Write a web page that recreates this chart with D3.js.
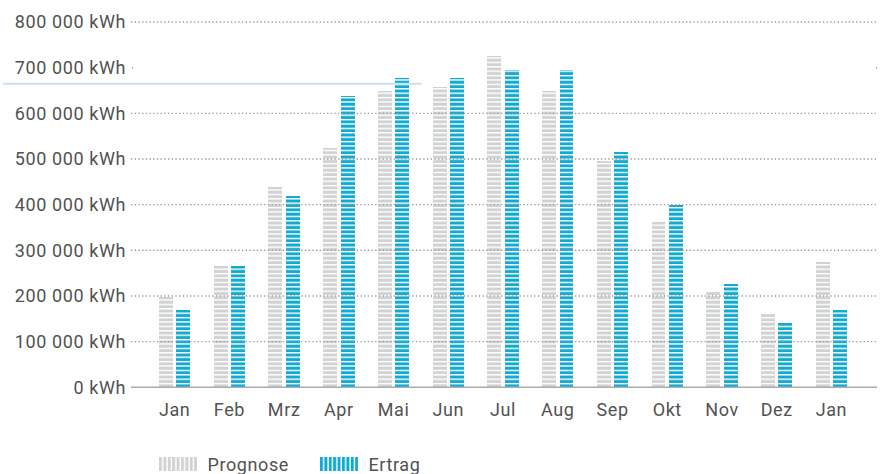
<!DOCTYPE html>
<html><head><meta charset="utf-8">
<script src="https://cdn.jsdelivr.net/npm/d3@7"></script>
<style>
html,body{margin:0;padding:0;background:#fff;}
svg{display:block;}
text{font-family:Roboto,"Noto Sans",sans-serif;}
</style></head><body>
<svg id="chart" width="884" height="474"></svg>
<script>
// ---- data ----
const categories = ["Jan","Feb","Mrz","Apr","Mai","Jun","Jul","Aug","Sep","Okt","Nov","Dez","Jan"];
const prognose = [198000,266000,438000,524000,649000,657000,725000,649000,496000,362000,209000,160000,274000];
const ertrag   = [169000,266000,419000,638000,677000,677000,695000,695000,515000,399000,226000,141000,169000];
const seriesNames = ["Prognose","Ertrag"];
const yTicks = [0,100000,200000,300000,400000,500000,600000,700000,800000];
const referenceValue = 665000;

// ---- layout / style ----
const baseY = 387.3, topY = 22;
const gridX0 = 131, gridX1 = 877;
const colors = {Prognose:"#d1d2d3", Ertrag:"#14a9d0"};
const textColor = "#525252";

const svg = d3.select("#chart");
const defs = svg.append("defs");

// horizontal stripe patterns for bars, aligned to baseline
const period = 4.4, stripe = 3;
seriesNames.forEach(name => {
  const p = defs.append("pattern")
    .attr("id","h-"+name)
    .attr("patternUnits","userSpaceOnUse")
    .attr("width",10).attr("height",period)
    .attr("patternTransform",`translate(0,${baseY})`);
  p.append("rect").attr("x",0).attr("y",period-stripe).attr("width",10).attr("height",stripe)
    .attr("fill",colors[name]);
  const v = defs.append("pattern")
    .attr("id","v-"+name)
    .attr("patternUnits","userSpaceOnUse")
    .attr("width",period).attr("height",20);
  v.append("rect").attr("x",0).attr("y",0).attr("width",stripe).attr("height",20)
    .attr("fill",colors[name]);
});

const y = d3.scaleLinear().domain([0,800000]).range([baseY, topY]);
const x0 = d3.scaleBand().domain(d3.range(categories.length))
  .range([147.3, 858.8]).paddingInner(0.426).paddingOuter(0.213);
const x1 = d3.scaleBand().domain(seriesNames).range([0, x0.bandwidth()]).paddingInner(0.2);

const fmt = d3.formatLocale({decimal:",", thousands:" ", grouping:[3], currency:["",""]}).format(",d");

// bars
const rows = categories.map((c,i) => ({i, values:[{k:"Prognose",v:prognose[i]},{k:"Ertrag",v:ertrag[i]}]}));
const g = svg.append("g").selectAll("g").data(rows).join("g")
  .attr("transform", d => `translate(${x0(d.i)},0)`);
g.selectAll("rect").data(d => d.values).join("rect")
  .attr("x", d => x1(d.k))
  .attr("width", x1.bandwidth())
  .attr("y", d => y(d.v))
  .attr("height", d => baseY - y(d.v))
  .attr("fill", d => `url(#h-${d.k})`)
  .attr("shape-rendering","crispEdges");

// gridlines (dotted, on top of bars)
const grid = svg.append("g");
yTicks.filter(t => t > 0 && t !== 700000).forEach(t => {
  grid.append("line")
    .attr("x1",gridX0).attr("x2",gridX1)
    .attr("y1",y(t)).attr("y2",y(t))
    .attr("stroke","#9a9a9a").attr("stroke-width",1.4)
    .attr("stroke-dasharray","1.3 2.4");
});
// the 700k line only shows its end dots
[gridX0+1, gridX1-1].forEach(xx => {
  grid.append("line").attr("x1",xx).attr("x2",xx+1.3)
    .attr("y1",y(700000)).attr("y2",y(700000))
    .attr("stroke","#9a9a9a").attr("stroke-width",1.4);
});

// baseline
svg.append("line").attr("x1",gridX0).attr("x2",gridX1)
  .attr("y1",baseY).attr("y2",baseY)
  .attr("stroke","#ababab").attr("stroke-width",1.6);

// reference line
svg.append("line").attr("x1",3).attr("x2",421.7)
  .attr("y1",y(referenceValue)).attr("y2",y(referenceValue))
  .attr("stroke","#c6e3ee").attr("stroke-width",2);

// y axis labels
const yAxis = svg.append("g").attr("transform",`translate(${gridX0},0)`)
  .call(d3.axisLeft(y).tickValues(yTicks).tickSize(0).tickPadding(5).tickFormat(d => fmt(d) + " kWh"));
yAxis.select(".domain").remove();
yAxis.selectAll("text").attr("fill",textColor).style("font-size","18px").style("letter-spacing","0.6px")
  .style("font-family","Roboto");

// x axis labels
const xAxis = svg.append("g").attr("transform",`translate(0,${baseY})`)
  .call(d3.axisBottom(x0).tickSize(0).tickPadding(15.5).tickFormat(i => categories[i]));
xAxis.select(".domain").remove();
xAxis.selectAll("text").attr("fill",textColor).style("font-size","18px").style("letter-spacing","0.6px")
  .style("font-family","Roboto");

// legend
const legend = [{k:"Prognose", x:159}, {k:"Ertrag", x:320}];
const lg = svg.append("g").selectAll("g").data(legend).join("g")
  .attr("transform", d => `translate(${d.x},457)`);
lg.append("rect").attr("width",38).attr("height",14)
  .attr("fill", d => `url(#v-${d.k})`).attr("shape-rendering","crispEdges");
lg.append("text").attr("x",48.5).attr("y",13.5)
  .attr("fill",textColor).style("font-size","18px").style("letter-spacing","0.6px")
  .text(d => d.k);
</script>
</body></html>
